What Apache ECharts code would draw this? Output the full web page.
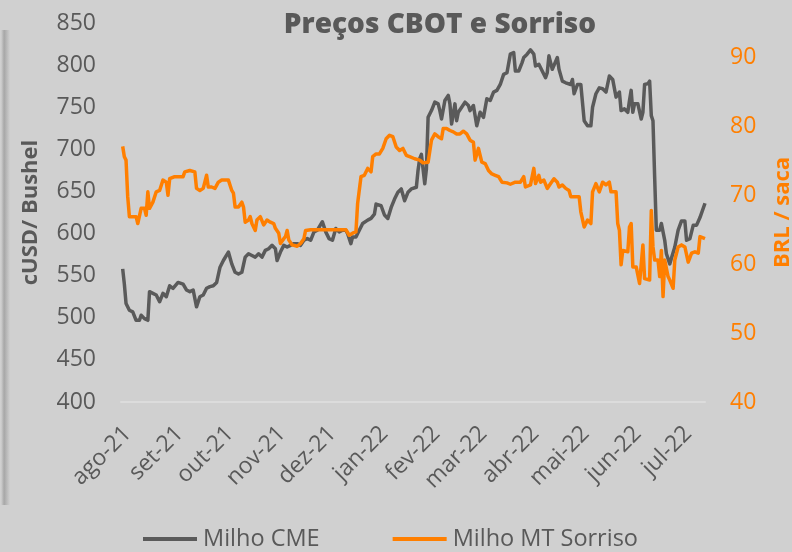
<!DOCTYPE html>
<html>
<head>
<meta charset="utf-8">
<script src="https://cdn.jsdelivr.net/npm/echarts@6/dist/echarts.min.js"></script>
<style>
  html, body { margin: 0; padding: 0; background: #d0d0d0; }
  #chart { width: 792px; height: 552px; }
</style>
</head>
<body>
<div id="chart"></div>
<script>
// Month abbreviations used for the date axis labels (pt-BR)
const monthNames = ['jan', 'fev', 'mar', 'abr', 'mai', 'jun', 'jul', 'ago', 'set', 'out', 'nov', 'dez'];

// Milho CME (cUSD/bushel)
const cmeDates = [
  '2021-08-01','2021-08-02','2021-08-03','2021-08-05','2021-08-07','2021-08-09','2021-08-11','2021-08-12','2021-08-14','2021-08-16',
  '2021-08-17','2021-08-19','2021-08-21','2021-08-23','2021-08-25','2021-08-27','2021-08-29','2021-08-31','2021-09-03','2021-09-06',
  '2021-09-08','2021-09-10','2021-09-12','2021-09-14','2021-09-16','2021-09-18','2021-09-20','2021-09-22','2021-09-24','2021-09-26',
  '2021-09-28','2021-09-30','2021-10-03','2021-10-05','2021-10-07','2021-10-09','2021-10-11','2021-10-13','2021-10-15','2021-10-17',
  '2021-10-19','2021-10-21','2021-10-23','2021-10-25','2021-10-27','2021-10-29','2021-10-31','2021-11-01','2021-11-03','2021-11-05',
  '2021-11-07','2021-11-09','2021-11-11','2021-11-13','2021-11-15','2021-11-17','2021-11-19','2021-11-21','2021-11-23','2021-11-25',
  '2021-11-28','2021-11-30','2021-12-02','2021-12-04','2021-12-06','2021-12-08','2021-12-10','2021-12-12','2021-12-13','2021-12-15',
  '2021-12-16','2021-12-18','2021-12-20','2021-12-22','2021-12-25','2021-12-27','2021-12-29','2021-12-30','2022-01-02','2022-01-04',
  '2022-01-06','2022-01-08','2022-01-10','2022-01-12','2022-01-14','2022-01-16','2022-01-18','2022-01-20','2022-01-23','2022-01-24',
  '2022-01-25','2022-01-26','2022-01-28','2022-01-29','2022-01-30','2022-02-01','2022-02-03','2022-02-05','2022-02-06','2022-02-07',
  '2022-02-09','2022-02-11','2022-02-12','2022-02-13','2022-02-15','2022-02-16','2022-02-17','2022-02-19','2022-02-21','2022-02-23',
  '2022-02-24','2022-02-26','2022-02-28','2022-03-02','2022-03-04','2022-03-06','2022-03-08','2022-03-10','2022-03-12','2022-03-14',
  '2022-03-16','2022-03-18','2022-03-20','2022-03-22','2022-03-23','2022-03-25','2022-03-27','2022-03-28','2022-03-30','2022-04-01',
  '2022-04-03','2022-04-04','2022-04-06','2022-04-08','2022-04-10','2022-04-11','2022-04-12','2022-04-14','2022-04-15','2022-04-17',
  '2022-04-18','2022-04-20','2022-04-22','2022-04-23','2022-04-25','2022-04-26','2022-04-27','2022-04-29','2022-05-01','2022-05-03',
  '2022-05-05','2022-05-07','2022-05-08','2022-05-10','2022-05-12','2022-05-14','2022-05-16','2022-05-18','2022-05-20','2022-05-21',
  '2022-05-22','2022-05-23','2022-05-24','2022-05-25','2022-05-27','2022-05-29','2022-05-30','2022-05-31','2022-06-01','2022-06-02',
  '2022-06-04','2022-06-06','2022-06-07','2022-06-08','2022-06-10','2022-06-11','2022-06-12','2022-06-13','2022-06-14','2022-06-15',
  '2022-06-17','2022-06-18','2022-06-20','2022-06-21','2022-06-23','2022-06-24','2022-06-26','2022-06-28','2022-06-30','2022-07-02',
  '2022-07-03','2022-07-05','2022-07-07','2022-07-09','2022-07-11','2022-07-14'
];
const cmeValues = [
  558,540,517,509,507,497,497,503,499,497,
  531,529,527,519,529,525,538,535,542,540,
  533,531,533,513,525,527,535,537,538,542,
  560,568,578,564,554,552,554,572,576,574,
  572,576,572,580,582,586,582,568,578,586,
  584,586,588,588,586,592,594,592,602,604,
  614,602,594,592,606,602,604,604,600,588,
  596,596,604,612,616,618,623,635,633,622,
  618,631,641,649,653,639,649,653,655,675,
  689,694,659,677,738,746,756,754,746,736,
  758,764,754,730,754,734,744,750,756,752,
  746,752,728,744,738,760,758,768,770,777,
  789,791,813,815,793,793,803,809,813,818,
  813,799,801,793,785,791,811,795,793,809,
  795,781,779,781,777,783,766,777,777,734,
  728,728,750,766,773,772,768,787,783,783,
  762,764,768,746,748,744,758,770,744,754,
  754,736,744,777,778,781,740,734,667,604,
  604,612,592,576,564,564,584,604,615,615,
  592,594,610,610,619,636
];

// Milho MT Sorriso (BRL/saca)
const sorrisoDates = [
  '2021-08-01','2021-08-02','2021-08-03','2021-08-04','2021-08-05','2021-08-07','2021-08-09','2021-08-10','2021-08-12','2021-08-14',
  '2021-08-15','2021-08-16','2021-08-17','2021-08-19','2021-08-20','2021-08-21','2021-08-23','2021-08-25','2021-08-27','2021-08-28',
  '2021-08-29','2021-09-01','2021-09-04','2021-09-06','2021-09-07','2021-09-10','2021-09-13','2021-09-14','2021-09-16','2021-09-18',
  '2021-09-20','2021-09-21','2021-09-23','2021-09-25','2021-09-27','2021-09-29','2021-10-03','2021-10-05','2021-10-06','2021-10-07',
  '2021-10-09','2021-10-11','2021-10-12','2021-10-13','2021-10-15','2021-10-16','2021-10-17','2021-10-19','2021-10-20','2021-10-22',
  '2021-10-23','2021-10-24','2021-10-26','2021-10-28','2021-10-30','2021-10-31','2021-11-02','2021-11-03','2021-11-05','2021-11-06',
  '2021-11-07','2021-11-08','2021-11-10','2021-11-13','2021-11-15','2021-11-17','2021-11-18','2021-11-21','2021-12-12','2021-12-14',
  '2021-12-16','2021-12-18','2021-12-19','2021-12-21','2021-12-23','2021-12-25','2021-12-27','2021-12-28','2021-12-30','2022-01-01',
  '2022-01-03','2022-01-05','2022-01-07','2022-01-09','2022-01-11','2022-01-13','2022-01-15','2022-01-17','2022-01-19','2022-01-22',
  '2022-01-25','2022-01-27','2022-01-30','2022-02-01','2022-02-03','2022-02-05','2022-02-07','2022-02-08','2022-02-10','2022-02-12',
  '2022-02-14','2022-02-16','2022-02-18','2022-02-20','2022-02-22','2022-02-24','2022-02-26','2022-02-27','2022-03-01','2022-03-03',
  '2022-03-05','2022-03-07','2022-03-09','2022-03-11','2022-03-13','2022-03-15','2022-03-18','2022-03-20','2022-03-23','2022-03-26',
  '2022-03-28','2022-03-29','2022-04-01','2022-04-03','2022-04-04','2022-04-06','2022-04-07','2022-04-09','2022-04-11','2022-04-13',
  '2022-04-15','2022-04-17','2022-04-18','2022-04-20','2022-04-22','2022-04-24','2022-04-25','2022-04-30','2022-05-01','2022-05-03',
  '2022-05-05','2022-05-07','2022-05-08','2022-05-10','2022-05-12','2022-05-14','2022-05-16','2022-05-18','2022-05-19','2022-05-22',
  '2022-05-23','2022-05-24','2022-05-25','2022-05-26','2022-05-27','2022-05-29','2022-05-30','2022-05-31','2022-06-01','2022-06-03',
  '2022-06-04','2022-06-05','2022-06-07','2022-06-08','2022-06-09','2022-06-11','2022-06-12','2022-06-13','2022-06-14','2022-06-16',
  '2022-06-17','2022-06-18','2022-06-19','2022-06-20','2022-06-22','2022-06-23','2022-06-25','2022-06-26','2022-06-28','2022-06-30',
  '2022-07-02','2022-07-04','2022-07-06','2022-07-08','2022-07-10','2022-07-11','2022-07-14'
];
const sorrisoValues = [
  77.1,75.6,75.1,69.8,66.9,66.9,66.9,65.9,68.1,68.1,
  67.1,70.5,68.1,69.0,68.8,70.5,70.7,72.2,71.9,70.0,
  72.4,72.7,72.7,72.7,73.4,73.6,73.4,71.0,70.7,71.0,
  72.9,71.2,71.2,71.0,71.9,72.2,72.2,70.7,70.3,68.3,
  68.3,69.0,68.3,66.1,66.4,66.9,65.9,64.9,66.4,66.9,
  66.9,65.7,66.4,66.1,65.9,65.2,64.5,63.0,63.7,64.0,
  64.9,63.5,62.8,62.6,63.0,63.7,64.9,65.0,65.0,64.2,
  64.5,64.7,68.8,72.7,72.9,73.9,73.4,75.6,76.0,76.0,
  76.8,78.2,78.7,78.5,77.0,76.5,76.8,75.8,75.6,75.3,
  75.1,74.7,74.8,78.0,78.9,78.5,78.2,79.7,79.7,79.4,
  79.2,78.9,78.9,79.3,78.9,78.0,77.7,75.1,76.8,74.8,
  74.6,73.6,73.1,72.9,72.7,71.9,71.8,71.6,71.9,71.9,
  72.7,71.2,71.5,73.9,71.7,72.9,71.9,72.2,71.0,71.7,
  72.4,71.9,71.2,71.5,71.0,70.7,69.8,69.8,67.6,65.4,
  66.4,65.9,70.5,71.7,70.5,71.9,71.5,71.9,70.5,70.5,
  65.9,64.9,59.9,62.0,61.8,61.8,65.4,65.9,59.6,59.6,
  59.4,57.2,62.8,57.9,57.7,57.7,67.8,62.5,60.6,60.6,
  58.2,62.0,55.3,60.6,58.2,57.7,56.5,60.6,62.5,62.8,
  62.5,60.3,61.6,61.8,61.6,64.0,63.7
];

const DAY = 24 * 3600 * 1000;
const GRAY = '#5a5a5a';
const ORANGE = '#ff7f00';
const TEXT = '#595959';
const FONT = '"Open Sans", "DejaVu Sans", sans-serif';

const chart = echarts.init(document.getElementById('chart'), null, { renderer: 'canvas' });

chart.setOption({
  backgroundColor: '#d0d0d0',
  animation: false,
  textStyle: { fontFamily: FONT },
  graphic: [
    {
      type: 'rect',
      shape: { x: 1, y: 30, width: 9, height: 475 },
      style: {
        fill: new echarts.graphic.LinearGradient(0, 0, 1, 0, [
          { offset: 0, color: 'rgba(160,160,160,0)' },
          { offset: 0.35, color: 'rgba(160,160,160,0.85)' },
          { offset: 1, color: 'rgba(160,160,160,0)' }
        ])
      },
      silent: true
    },
    {
      type: 'text',
      style: {
        text: 'Preços CBOT e Sorriso',
        x: 440,
        y: 25,
        textAlign: 'center',
        textVerticalAlign: 'middle',
        font: '800 28px ' + FONT,
        fill: TEXT
      },
      silent: true
    }
  ],
  legend: {
    left: 143,
    top: 527,
    padding: 0,
    itemWidth: 54,
    itemHeight: 4,
    itemGap: 73,
    itemStyle: { borderWidth: 0 },
    icon: 'rect',
    textStyle: { fontSize: 23.5, color: TEXT, fontFamily: FONT, padding: [0, 0, 0, 1] },
    data: ['Milho CME', 'Milho MT Sorriso']
  },
  grid: { left: 121, right: 87, top: 23, bottom: 150, containLabel: false, outerBoundsMode: 'none' },
  xAxis: {
    type: 'time',
    min: '2021-07-31',
    max: '2022-07-14',
    minInterval: 28 * DAY,
    maxInterval: 31 * DAY,
    splitLine: { show: false },
    axisTick: { show: false },
    axisLine: { show: true, lineStyle: { color: '#dcdcdc', width: 2 } },
    axisLabel: {
      rotate: 45,
      fontSize: 23,
      color: TEXT,
      fontFamily: FONT,
      margin: 23,
      lineHeight: 14,
      verticalAlign: 'top',
      hideOverlap: false,
      formatter: function (val) {
        const d = new Date(val);
        if (d.getDate() !== 1) return '';
        return monthNames[d.getMonth()] + '-' + String(d.getFullYear()).slice(2);
      }
    }
  },
  yAxis: [
    {
      type: 'value',
      min: 400,
      max: 850,
      interval: 50,
      splitLine: { show: false },
      axisLine: { show: false },
      axisTick: { show: false },
      axisLabel: { fontSize: 23, color: TEXT, margin: 25, fontFamily: FONT },
      name: 'cUSD/ Bushel',
      nameLocation: 'middle',
      nameRotate: 90,
      nameGap: 79,
      nameTextStyle: { fontSize: 22, fontWeight: 'bold', color: TEXT, fontFamily: FONT }
    },
    {
      type: 'value',
      min: 40,
      max: 95,
      interval: 10,
      position: 'right',
      splitLine: { show: false },
      axisLine: { show: false },
      axisTick: { show: false },
      axisLabel: {
        fontSize: 23,
        color: ORANGE,
        margin: 25,
        fontFamily: FONT,
        formatter: function (v) { return v % 10 === 0 ? String(v) : ''; }
      },
      name: 'BRL / saca',
      nameLocation: 'middle',
      nameRotate: 90,
      nameGap: 67,
      nameTextStyle: { fontSize: 22, fontWeight: 'bold', color: ORANGE, fontFamily: FONT }
    }
  ],
  series: [
    {
      name: 'Milho CME',
      type: 'line',
      yAxisIndex: 0,
      showSymbol: false,
      symbol: 'none',
      color: GRAY,
      lineStyle: { color: GRAY, width: 3.5, join: 'round' },
      data: cmeDates.map((d, i) => [d, cmeValues[i]])
    },
    {
      name: 'Milho MT Sorriso',
      type: 'line',
      yAxisIndex: 1,
      showSymbol: false,
      symbol: 'none',
      color: ORANGE,
      lineStyle: { color: ORANGE, width: 3.5, join: 'round' },
      data: sorrisoDates.map((d, i) => [d, sorrisoValues[i]])
    }
  ]
});
</script>
</body>
</html>
